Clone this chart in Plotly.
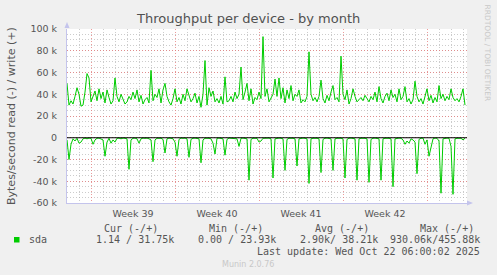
import pandas as pd
import plotly.graph_objects as go

# ---- data (values in k Bytes/second, 4-hour samples) ----
start_time = "2025-09-20 00:00"
n_points = 200

write_k = [
    50, 30, 34, 31, 38, 46, 40, 29, 30, 42,
    59, 55, 33, 38, 43, 34, 45, 36, 42, 32,
    44, 37, 31, 34, 55, 38, 33, 40, 36, 31,
    33, 38, 35, 42, 36, 44, 33, 39, 31, 35,
    37, 32, 62, 34, 40, 37, 45, 32, 44, 50,
    38, 33, 30, 36, 45, 33, 37, 31, 40, 34,
    45, 38, 33, 36, 41, 32, 38, 28, 40, 71,
    30, 46, 38, 43, 33, 36, 32, 38, 31, 56,
    33, 34, 38, 33, 42, 36, 40, 65, 35, 42,
    50, 34, 45, 31, 37, 35, 42, 36, 93, 38,
    45, 33, 36, 40, 54, 38, 55, 36, 46, 32,
    44, 36, 48, 34, 40, 38, 44, 32, 35, 33,
    38, 79, 40, 34, 37, 33, 38, 53, 36, 32,
    39, 34, 42, 48, 35, 37, 33, 75, 40, 35,
    44, 31, 36, 45, 38, 33, 35, 37, 34, 39,
    36, 33, 38, 35, 42, 33, 47, 36, 32, 38,
    41, 34, 44, 37, 40, 33, 45, 35, 38, 47,
    33, 36, 31, 35, 52, 38, 33, 36, 31, 38,
    45, 34, 39, 32, 37, 33, 48, 36, 40, 34,
    38, 35, 45, 37, 34, 36, 33, 38, 45, 30,
]

read_k = [
    -2, -20, -6, -1, -3, -0.5, -5, -4, -1, -0.3,
    -1, -0.3, -0.5, -6, -2, -0.5, -0.3, -1, -2, -17,
    -4, -0.5, -5, -2, -4, -0.5, -0.3, -1, -0.3, -0.5,
    -1, -29, -2, -0.5, -0.3, -1, -5, -1, -0.3, -0.5,
    -0.3, -1, -2, -22, -2, -0.5, -0.3, -0.5, -1.5, -14,
    -1, -0.3, -0.5, -1, -4, -17, -1.5, -0.3, -0.5, -0.3,
    -1, -18, -1.5, -0.5, -0.3, -0.5, -1, -23, -2, -0.5,
    -0.3, -0.5, -1, -5, -15, -0.5, -0.3, -0.5, -1, -16,
    -1.5, -0.3, -0.5, -0.3, -0.5, -1, -8, -0.5, -0.3, -0.5,
    -1, -39, -1.5, -0.5, -0.3, -0.5, -4, -3, -0.5, -0.3,
    -0.5, -0.3, -1, -37, -1, -0.5, -0.3, -0.5, -1, -30,
    -1.5, -0.5, -0.3, -0.5, -1, -26, -1, -0.5, -0.3, -0.5,
    -1, -42, -1, -0.5, -0.3, -0.5, -1, -32, -1.5, -0.5,
    -0.3, -0.5, -1, -30, -1, -0.5, -0.3, -0.5, -1, -37,
    -1.5, -0.5, -0.3, -0.5, -1, -39, -1, -0.5, -0.3, -0.5,
    -1, -41, -1.5, -0.5, -0.3, -0.5, -1, -39, -1, -0.5,
    -0.3, -0.5, -1, -45, -1, -0.5, -0.3, -0.5, -2, -6,
    -3, -5, -1, -2, -4, -33, -1.5, -0.5, -0.3, -6,
    -2, -17, -10, -1, -0.3, -0.5, -3, -51, -1, -0.5,
    -0.3, -0.5, -8, -52, -1, -0.5, -0.3, -0.5, -2, -0.5,
]

y_tickvals = [100, 80, 60, 40, 20, 0, -20, -40, -60]
y_ticktext = ["100 k", "80 k", "60 k", "40 k", "20 k", "0", "-20 k", "-40 k", "-60 k"]

week_centers = ["2025-09-25 12:00", "2025-10-02 12:00", "2025-10-09 12:00", "2025-10-16 12:00"]
week_labels = ["Week 39", "Week 40", "Week 41", "Week 42"]

legend_headers = ["Cur (-/+)", "Min (-/+)", "Avg (-/+)", "Max (-/+)"]
legend_values = ["1.14 / 31.75k", "0.00 / 23.93k", "2.90k/ 38.21k", "930.06k/455.88k"]
series_name = "sda"
last_update = "Last update: Wed Oct 22 06:00:02 2025"

x_range = ["2025-09-20 00:00", "2025-10-23 08:00"]

times = pd.date_range(start_time, periods=n_points, freq="4h")

# ---- layout geometry (pixels) ----
W, H = 497, 275
PL, PR, PT, PB = 67, 467, 29, 203


def P(x, y):
    return (x - PL) / (PR - PL), (PB - y) / (PB - PT)


GREEN = "#00CC00"
TXT = "#555555"
AXIS = "#C4C4EC"
MAJ = "rgba(230,120,120,0.75)"
MIN = "rgba(170,170,170,0.6)"

fig = go.Figure()
fig.add_trace(go.Scatter(x=times, y=read_k, mode="lines",
                         line=dict(color=GREEN, width=1), hoverinfo="skip"))
fig.add_trace(go.Scatter(x=times, y=write_k, mode="lines",
                         line=dict(color=GREEN, width=1), hoverinfo="skip"))
# invisible trace for week label axis
fig.add_trace(go.Scatter(x=week_centers, y=[0] * len(week_centers), xaxis="x2",
                         mode="markers", marker=dict(opacity=0), hoverinfo="skip"))

fig.update_layout(
    width=W, height=H,
    margin=dict(l=PL, r=W - PR, t=PT, b=H - PB, pad=0),
    paper_bgcolor="#F0F0F0", plot_bgcolor="#FFFFFF",
    showlegend=False,
    font=dict(family="DejaVu Sans", color=TXT, size=10),
    xaxis=dict(
        type="date", range=x_range,
        tick0="2025-09-22", dtick=7 * 86400000,
        showticklabels=False, ticks="",
        showgrid=True, gridcolor=MAJ, griddash="1px,2px", gridwidth=1,
        minor=dict(tick0="2025-09-22", dtick=86400000, showgrid=True,
                   gridcolor=MIN, griddash="1px,2px", gridwidth=1),
        showline=True, linecolor=AXIS, linewidth=1,
        zeroline=False,
    ),
    xaxis2=dict(
        type="date", overlaying="x", matches="x", side="bottom",
        tickmode="array", tickvals=week_centers, ticktext=week_labels,
        showgrid=False, ticks="", showline=False, zeroline=False,
        tickfont=dict(size=9.5, color=TXT, family="DejaVu Sans"),
        ticklabelstandoff=3,
    ),
    yaxis=dict(
        range=[-60, 100], tickmode="array", tickvals=y_tickvals, ticktext=y_ticktext,
        showgrid=True, gridcolor=MAJ, griddash="1px,2px", gridwidth=1,
        minor=dict(tickmode="linear", tick0=0, dtick=5, showgrid=True,
                   gridcolor=MIN, griddash="1px,2px", gridwidth=1),
        ticks="", ticklabelstandoff=7,
        tickfont=dict(size=9.5, color=TXT, family="DejaVu Sans"),
        showline=True, linecolor=AXIS, linewidth=1,
        zeroline=False,
    ),
)

# zero line (black) above traces
fig.add_shape(type="line", xref="paper", yref="y", x0=0, x1=1, y0=0, y1=0,
              line=dict(color="#000000", width=1), layer="above")

# axis arrows
ax0, ay0 = P(67, 22)
ax1, ay1 = P(64.5, 28)
ax2, ay2 = P(69.5, 28)
fig.add_shape(type="path", xref="paper", yref="paper",
              path=f"M {ax0} {ay0} L {ax1} {ay1} L {ax2} {ay2} Z",
              fillcolor=AXIS, line=dict(width=0))
bx0, by0 = P(473, 203)
bx1, by1 = P(467, 200.5)
bx2, by2 = P(467, 205.5)
fig.add_shape(type="path", xref="paper", yref="paper",
              path=f"M {bx0} {by0} L {bx1} {by1} L {bx2} {by2} Z",
              fillcolor=AXIS, line=dict(width=0))
# extend bottom axis line a little
ex0, ey0 = P(467, 203)
ex1, ey1 = P(471, 203)
fig.add_shape(type="line", xref="paper", yref="paper", x0=ex0, y0=ey0, x1=ex1, y1=ey1,
              line=dict(color=AXIS, width=1))


def ann(text, x, y, size=10, color=TXT, family="DejaVu Sans", xanchor="center",
        yanchor="middle", angle=0):
    px, py = P(x, y)
    fig.add_annotation(text=text, x=px, y=py, xref="paper", yref="paper",
                       showarrow=False, xanchor=xanchor, yanchor=yanchor,
                       textangle=angle, font=dict(size=size, color=color, family=family))


ann("Throughput per device - by month", 248, 19, size=13, color="#505050")
ann("Bytes/second read (-) / write (+)", 11, 116, size=11, angle=-90)
ann("RRDTOOL / TOBI OETIKER", 487.5, 53, size=7.5, color="#C8C8C8", angle=90)

MONO = "DejaVu Sans Mono"
header_right = [160, 265, 371, 476]
value_right = [176, 278, 380, 482]
for t, xr in zip(legend_headers, header_right):
    ann(t, xr, 228, size=10, family=MONO, xanchor="right")
for t, xr in zip(legend_values, value_right):
    ann(t, xr, 239.5, size=10, family=MONO, xanchor="right")
ann(series_name, 26.5, 239.5, size=10, family=MONO, xanchor="left")
ann(last_update, 482, 251, size=10, family=MONO, xanchor="right")
ann("Munin 2.0.76", 248, 264, size=8, color="#C8C8C8")

sx0, sy0 = P(14, 242.5)
sx1, sy1 = P(19.5, 237)
fig.add_shape(type="rect", xref="paper", yref="paper", x0=sx0, y0=sy0, x1=sx1, y1=sy1,
              fillcolor=GREEN, line=dict(width=0))

fig.write_html("out.html")
